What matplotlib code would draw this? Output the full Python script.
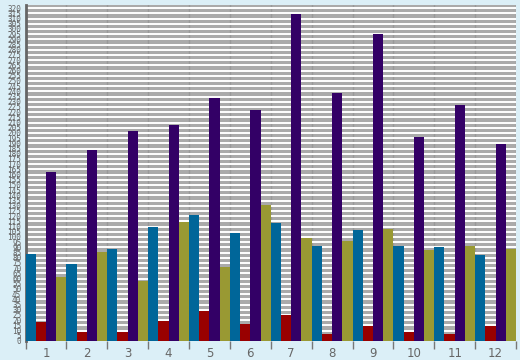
import matplotlib
matplotlib.use('Agg')
import matplotlib.pyplot as plt
import numpy as np

# values (units where tick step = 5)
groups = ['1', '2', '3', '4', '5', '6', '7', '8', '9', '10', '11', '12']
blue = [84, 74, 88, 110, 121, 104, 113, 91, 107, 91, 90, 83]
red = [18, 9, 9, 19, 29, 16, 25, 7, 14, 9, 7, 14]
purple = [162, 184, 202, 208, 234, 222, 314, 238, 295, 196, 227, 189]
olive = [62, 86, 58, 114, 71, 131, 99, 96, 108, 87, 91, 88]
y_ticks = np.arange(0, 321, 5)

series = [blue, red, purple, olive]
bar_colors = ['#006699', '#990000', '#330066', '#999933']

bg = '#dbeff7'
fig = plt.figure(figsize=(5.2, 3.6), dpi=100, facecolor=bg)
ax = fig.add_axes([25.5 / 520, 19 / 360, 490.5 / 520, 336 / 360])
ax.set_facecolor('#aaaaaa')

x = np.arange(1, len(groups) + 1)
w = 0.25
for k, (vals, col) in enumerate(zip(series, bar_colors)):
    ax.bar(x + (k - 1.5) * w, vals, width=w, color=col, linewidth=0, zorder=3)

ax.set_xlim(0.5, len(groups) + 0.5)
ax.set_ylim(0, 323)

# horizontal white grid, crowded tick labels as in the original
ax.set_yticks(y_ticks)
ax.set_yticklabels([str(v) for v in y_ticks], fontsize=5.5, color='#666666',
                   family='DejaVu Sans Mono')
ax.tick_params(axis='y', length=0, pad=3)
for v in y_ticks[1:]:
    ax.axhline(v, color='white', linewidth=1.4, zorder=2)

# vertical boundaries with tick marks, labels at group centres
ax.set_xticks(np.arange(0.5, len(groups) + 1, 1))
ax.set_xticklabels([])
ax.set_xticks(x, minor=True)
ax.set_xticklabels(groups, minor=True, fontsize=8.5, color='#666666')
ax.tick_params(axis='x', which='major', length=6, width=1, color='#777777',
               direction='out')
ax.tick_params(axis='x', which='minor', length=0, pad=4)
ax.grid(axis='x', which='major', color='#999999', linewidth=1, zorder=1)

for s in ['top', 'right', 'bottom']:
    ax.spines[s].set_visible(False)
ax.spines['left'].set_color('#666666')
ax.spines['left'].set_linewidth(2)

fig.savefig('out.png', dpi=100, facecolor=bg)
